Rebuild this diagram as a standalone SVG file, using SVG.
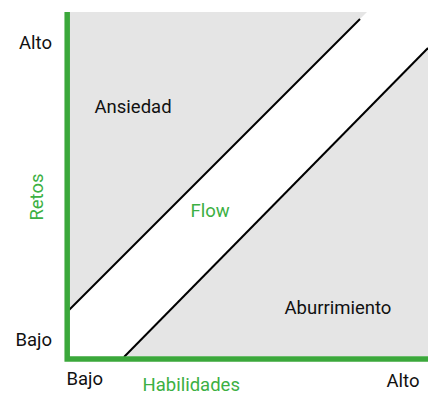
<svg xmlns="http://www.w3.org/2000/svg" width="428" height="395" viewBox="0 0 428 395">
<style>
.zone{fill:#e5e5e5;stroke:none}
.diag{stroke:#000;stroke-width:2;fill:none}
.axis{stroke:#3ba83b;stroke-width:5.5;fill:none}
.lbl{font-family:Roboto,"Liberation Sans",sans-serif;font-size:18.5px;fill:#111}
.glbl{font-family:Roboto,"Liberation Sans",sans-serif;font-size:18.5px;fill:#3cb043}
</style>
<rect width="428" height="395" fill="#fff"/>
<g id="ansiedad-zone">
<polygon class="zone" points="70,12 367,12 70,309"/>
</g>
<g id="aburrimiento-zone">
<polygon class="zone" points="125,356 428,48 428,356"/>
</g>
<g id="connectors">
<line class="diag" x1="69" y1="310" x2="360" y2="19"/>
<line class="diag" x1="124" y1="357" x2="428" y2="48"/>
</g>
<g id="axes">
<path class="axis" d="M67.2,12 V359 H428"/>
</g>
<g id="labels">
<text class="lbl" x="19" y="49">Alto</text>
<text class="lbl" x="15.5" y="346">Bajo</text>
<text class="lbl" x="66.5" y="385">Bajo</text>
<text class="lbl" x="386.5" y="387">Alto</text>
<text class="lbl" x="94.5" y="113">Ansiedad</text>
<text class="lbl" x="284.5" y="314">Aburrimiento</text>
<text class="glbl" x="190.5" y="217">Flow</text>
<text class="glbl" x="142.5" y="391">Habilidades</text>
<text class="glbl" transform="translate(43,197) rotate(-90)" text-anchor="middle">Retos</text>
</g>
</svg>
